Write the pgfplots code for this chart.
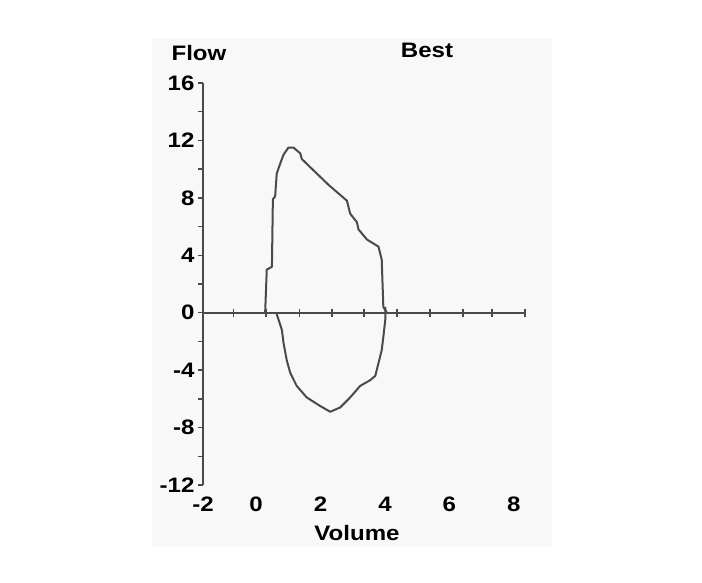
\documentclass[border=0pt]{standalone}
\usepackage{pgfplots}
\pgfplotsset{compat=1.18}
\usepackage{fontspec}
\setmainfont{Liberation Sans}[FakeStretch=1.15]
\definecolor{ink}{HTML}{4A4A4A}
\definecolor{panel}{HTML}{F8F8F8}
\newcommand\chartfont{\fontsize{21}{24}\selectfont\bfseries}
\begin{document}
\begin{tikzpicture}[x=1bp,y=1bp]
\path[use as bounding box] (0,0) rectangle (702,583);
\fill[panel] (152,36) rectangle (552,545);
\begin{axis}[
  at={(203bp,98bp)}, anchor=south west,
  scale only axis, width=322bp, height=402bp,
  xmin=-1.65, xmax=8.35, ymin=-12, ymax=16,
  clip=false,
  axis x line*=bottom, axis y line*=left,
  x axis line style={draw=none},
  y axis line style={ink, line width=2bp, -},
  xtick={-1.65,0,2,4,6,8}, xticklabels={-2,0,2,4,6,8},
  xtick style={draw=none},
  xticklabel style={yshift=-3bp, text height=15bp, text depth=0bp},
  ytick={-12,-8,...,16}, minor ytick={-10,-6,...,14},
  ytick style={ink, line width=1.5bp},
  tick align=outside, major tick length=5bp, minor tick length=5bp,
  tick label style={font=\chartfont, text=black},
  /pgf/number format/assume math mode=true,
]
% zero line with its tick marks
\addplot[ink, line width=2bp, mark=|, mark size=4bp,
  mark options={line width=1.5bp}] coordinates {
  (-1.65,0) (-0.71,0) (0.31,0) (1.34,0) (2.36,0) (3.35,0) (4.38,0)
  (5.40,0) (6.43,0) (7.33,0) (8.35,0)};
% expiratory part
\addplot[ink, line width=2bp, line join=round] coordinates {
  (0.28,0) (0.33,3.0) (0.49,3.2) (0.52,7.9) (0.59,8.1) (0.64,9.7)
  (0.75,10.4) (0.85,11.0) (1.00,11.5) (1.16,11.5) (1.37,11.1)
  (1.42,10.7) (2.25,8.9) (2.82,7.8) (2.92,6.9) (3.13,6.3) (3.18,5.8)
  (3.44,5.1) (3.80,4.6) (3.90,3.7) (3.95,0.4) (4.06,0)};
% inspiratory part
\addplot[ink, line width=2bp, line join=round] coordinates {
  (0.64,-0.1) (0.80,-1.2) (0.85,-2.1) (0.95,-3.3) (1.06,-4.2)
  (1.26,-5.1) (1.57,-5.9) (1.99,-6.5) (2.30,-6.9) (2.61,-6.6)
  (2.92,-5.9) (3.23,-5.1) (3.54,-4.7) (3.70,-4.4) (3.80,-3.5)
  (3.90,-2.6) (3.95,-1.7) (4.01,-0.5) (4.01,0.4)};
\end{axis}
\node[font=\chartfont] at (199,530) {Flow};
\node[font=\chartfont] at (427,533) {Best};
\node[font=\chartfont] at (357,50) {Volume};
\end{tikzpicture}
\end{document}
